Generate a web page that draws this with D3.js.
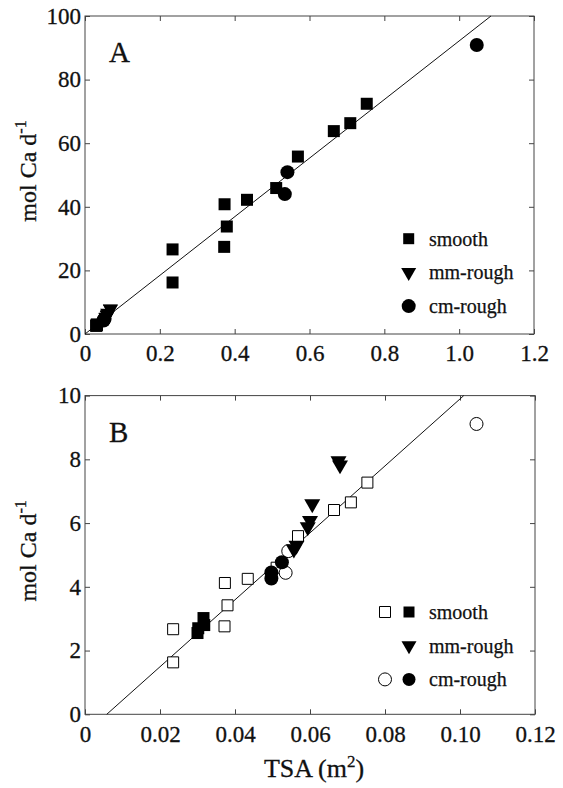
<!DOCTYPE html>
<html lang="en">
<head>
  <meta charset="UTF-8">
  <title>Ca uptake vs TSA</title>
  <script src="https://d3js.org/d3.v7.min.js"></script>
  <style>
    body { margin: 0; background: #fff; }
    svg { display: block; }
    svg text { font-family: 'Liberation Serif', 'Times New Roman', serif !important; }
  </style>
</head>
<body>
<svg></svg>
<script>
  // panel A data (TSA m2, mol Ca d-1)
  const aSmooth = [[0.030, 2.55], [0.0302, 2.70], [0.0316, 3.02], [0.0318, 2.80],
    [0.234, 26.6], [0.234, 16.2], [0.372, 27.4], [0.373, 40.8], [0.379, 33.8],
    [0.433, 42.2], [0.511, 45.9], [0.569, 55.8], [0.665, 63.8], [0.709, 66.3], [0.753, 72.4]]
  const aMmRough = [[0.0557, 5.18], [0.0564, 5.30], [0.0594, 5.88], [0.0600, 6.08],
    [0.0606, 6.60], [0.0676, 7.95], [0.0680, 7.82]]
  const aCmRough = [[0.0497, 4.26], [0.0497, 4.45], [0.0525, 4.77],
    [0.534, 44.0], [0.541, 50.9], [1.047, 90.9]]
  const aFit = [[0, 0], [1.085, 100]]

  // panel B data
  const bSmoothOpen = [[0.0235, 2.67], [0.0235, 1.63], [0.0372, 2.76], [0.0373, 4.12],
    [0.0380, 3.42], [0.0434, 4.25], [0.0511, 4.60], [0.0568, 5.59], [0.0664, 6.41],
    [0.0709, 6.65], [0.0753, 7.27]]
  const bSmoothFilled = [[0.030, 2.55], [0.0302, 2.70], [0.0316, 3.02], [0.0318, 2.80]]
  const bMmRough = [[0.0557, 5.18], [0.0564, 5.30], [0.0594, 5.88], [0.0600, 6.08],
    [0.0606, 6.60], [0.0676, 7.95], [0.0680, 7.82]]
  const bCmOpen = [[0.0535, 4.44], [0.0542, 5.12], [0.1044, 9.11]]
  const bCmFilled = [[0.0497, 4.26], [0.0497, 4.45], [0.0525, 4.77]]
  const bFit = [[0.0058, 0], [0.101, 10]]

  // ticks
  const aXTicks = [0, 0.2, 0.4, 0.6, 0.8, 1.0, 1.2]
  const aYTicks = [0, 20, 40, 60, 80, 100]
  const bXTicks = [0, 0.02, 0.04, 0.06, 0.08, 0.10, 0.12]
  const bYTicks = [0, 2, 4, 6, 8, 10]
  const legendNames = ['smooth', 'mm-rough', 'cm-rough']

  const width = 563, height = 788

  const svg = d3.select('svg')
      .attr('width', width)
      .attr('height', height)
      .attr('viewBox', [0, 0, width, height])

  const sq = s => d3.symbol(d3.symbolSquare, s * s)()
  const circ = dia => d3.symbol(d3.symbolCircle, Math.PI * dia * dia / 4)()
  const tri = w => d3.symbol(d3.symbolTriangle, Math.sqrt(3) / 4 * w * w)()

  function panel(cfg) {
    const x = d3.scaleLinear().domain(cfg.xDomain).range([85, cfg.right])
    const y = d3.scaleLinear().domain(cfg.yDomain).range([cfg.bottom, cfg.top])
    const g = svg.append('g')

    // frame
    g.append('rect')
        .attr('x', x.range()[0]).attr('y', y.range()[1])
        .attr('width', x.range()[1] - x.range()[0])
        .attr('height', y.range()[0] - y.range()[1])
        .attr('fill', 'none').attr('stroke', '#444').attr('stroke-width', 1)

    const styleAxis = a => {
      a.select('.domain').remove()
      a.selectAll('line').attr('stroke', '#444')
      a.selectAll('text').attr('font-size', 23).attr('fill', '#111')
          .attr('stroke', '#111').attr('stroke-width', 0.3)
    }
    g.append('g').attr('transform', `translate(0,${cfg.bottom})`)
        .call(d3.axisBottom(x).tickValues(cfg.xTicks).tickSize(-5).tickPadding(11)
            .tickFormat(cfg.xFmt))
        .call(styleAxis)
    g.append('g').attr('transform', `translate(0,${cfg.top})`)
        .call(d3.axisTop(x).tickValues(cfg.xTicks).tickSize(-5).tickFormat(''))
        .call(styleAxis)
    g.append('g').attr('transform', 'translate(85,0)')
        .call(d3.axisLeft(y).tickValues(cfg.yTicks).tickSize(-5).tickPadding(4)
            .tickFormat(d3.format('d')))
        .call(styleAxis)
    g.append('g').attr('transform', `translate(${cfg.right},0)`)
        .call(d3.axisRight(y).tickValues(cfg.yTicks).tickSize(-5).tickFormat(''))
        .call(styleAxis)

    // fit line
    g.append('path')
        .attr('d', d3.line().x(d => x(d[0])).y(d => y(d[1]))(cfg.fit))
        .attr('fill', 'none').attr('stroke', '#111').attr('stroke-width', 1)

    // markers
    cfg.series.forEach(s => {
      g.append('g').selectAll('path')
          .data(s.data)
          .join('path')
          .attr('d', s.shape)
          .attr('transform', d => `translate(${x(d[0])},${y(d[1])})${s.rot ? ' rotate(180)' : ''}`)
          .attr('fill', s.open ? '#fff' : '#000')
          .attr('stroke', '#000')
          .attr('stroke-width', s.open ? 1 : 0)
    })

    // panel letter
    g.append('text')
        .attr('x', 109).attr('y', cfg.top + 46)
        .attr('font-size', 29).attr('fill', '#111')
        .attr('stroke', '#111').attr('stroke-width', 0.3)
        .text(cfg.letter)

    // y label
    const yl = g.append('text')
        .attr('transform', `translate(36,${(cfg.top + cfg.bottom) / 2 - 4}) rotate(-90)`)
        .attr('text-anchor', 'middle')
        .attr('font-size', 24).attr('fill', '#111')
        .attr('stroke', '#111').attr('stroke-width', 0.3)
    yl.append('tspan').text('mol Ca d')
    yl.append('tspan').attr('font-size', 16).attr('dy', -10).text('-1')

    // legend
    const lg = g.append('g').attr('font-size', 20).attr('fill', '#111')
        .attr('stroke-width', 0.25)
    cfg.legend.forEach((row, i) => {
      const ly = cfg.legendTop + i * 33.7
      row.marks.forEach(m => {
        lg.append('path')
            .attr('d', m.shape)
            .attr('transform', `translate(${m.x},${ly})${m.rot ? ' rotate(180)' : ''}`)
            .attr('fill', m.open ? '#fff' : '#000')
            .attr('stroke', '#000').attr('stroke-width', m.open ? 1 : 0)
      })
      lg.append('text').attr('x', 429).attr('y', ly + 7)
          .attr('stroke', '#111').text(legendNames[i])
    })
    return {x, y}
  }

  // panel A
  panel({
    letter: 'A',
    xDomain: [0, 1.2], yDomain: [0, 100],
    right: 534, top: 16, bottom: 334,
    xTicks: aXTicks, yTicks: aYTicks,
    xFmt: d => d === 0 ? '0' : d3.format('.1f')(d),
    fit: aFit,
    series: [
      {data: aSmooth, shape: sq(12)},
      {data: aCmRough, shape: circ(14)},
      {data: aMmRough, shape: tri(15), rot: true}
    ],
    legendTop: 238.7,
    legend: [
      {marks: [{x: 408.7, shape: sq(11)}]},
      {marks: [{x: 408.7, shape: tri(15), rot: true}]},
      {marks: [{x: 408.7, shape: circ(14)}]}
    ]
  })

  // panel B
  panel({
    letter: 'B',
    xDomain: [0, 0.12], yDomain: [0, 10],
    right: 535, top: 395.6, bottom: 714.3,
    xTicks: bXTicks, yTicks: bYTicks,
    xFmt: d => d === 0 ? '0' : d3.format('.2f')(d),
    fit: bFit,
    series: [
      {data: bSmoothOpen, shape: sq(11), open: true},
      {data: bCmOpen, shape: circ(13), open: true},
      {data: bSmoothFilled, shape: sq(12)},
      {data: bCmFilled, shape: circ(14)},
      {data: bMmRough, shape: tri(16), rot: true}
    ],
    legendTop: 612,
    legend: [
      {marks: [{x: 385, shape: sq(11), open: true}, {x: 409, shape: sq(11)}]},
      {marks: [{x: 409, shape: tri(15), rot: true}]},
      {marks: [{x: 385, shape: circ(13), open: true}, {x: 409, shape: circ(13)}]}
    ]
  })

  // x label
  const xl = svg.append('text')
      .attr('x', 314).attr('y', 777)
      .attr('text-anchor', 'middle')
      .attr('font-size', 26).attr('fill', '#111')
      .attr('stroke', '#111').attr('stroke-width', 0.3)
  xl.append('tspan').text('TSA (m')
  xl.append('tspan').attr('font-size', 17).attr('dy', -10).text('2')
  xl.append('tspan').attr('dy', 10).text(')')
</script>
</body>
</html>
